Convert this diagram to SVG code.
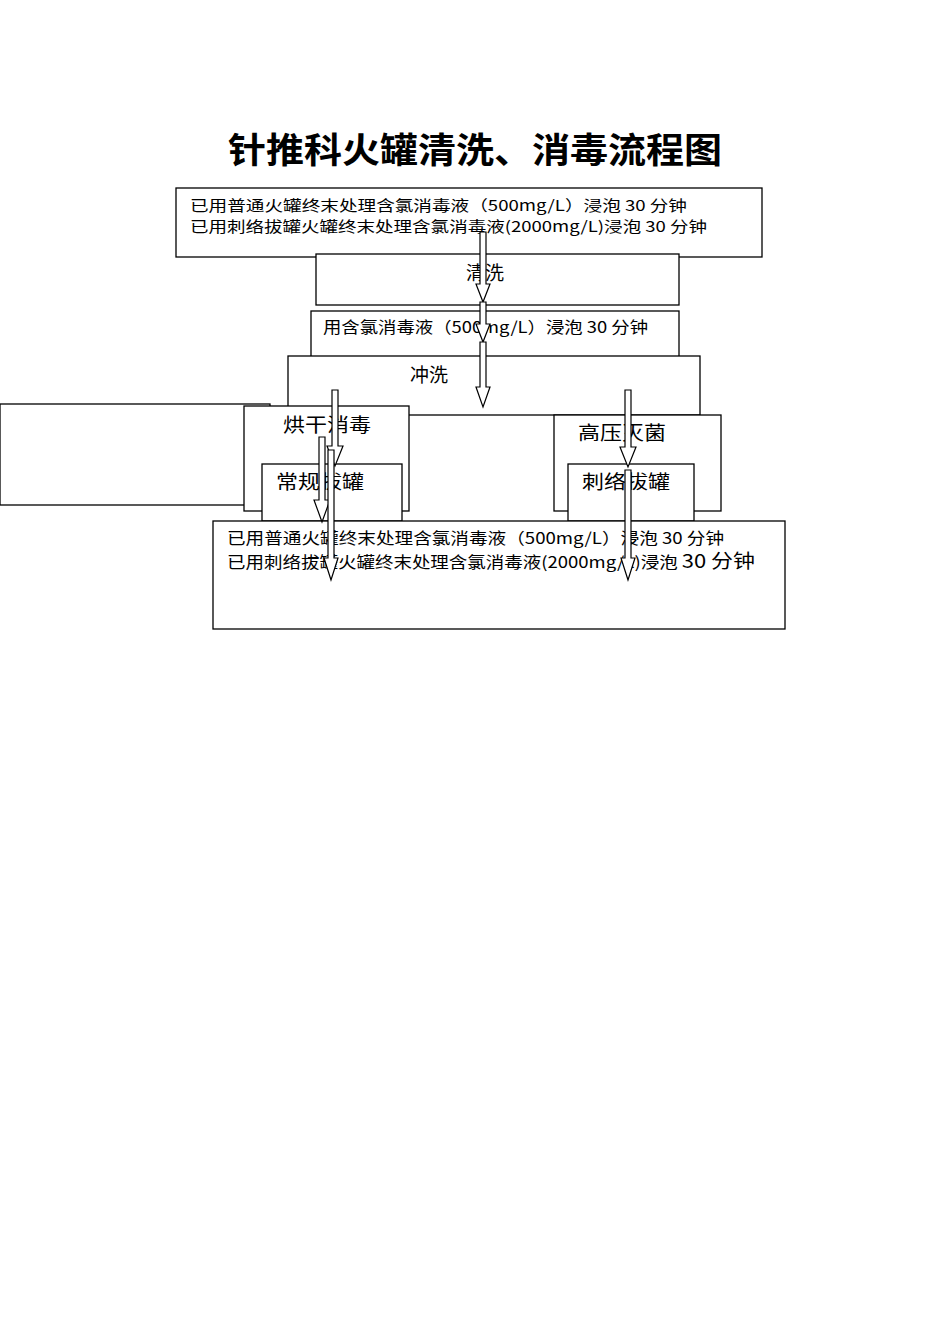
<svg xmlns="http://www.w3.org/2000/svg" width="950" height="1344" viewBox="0 0 950 1344">
<style>
.b{fill:#fff;stroke:#000;stroke-width:1.3}
.t{font-family:"Noto Sans CJK SC","Liberation Sans",sans-serif;fill:#000}
.a{fill:#fff;stroke:#000;stroke-width:1.2}
</style>
<rect width="950" height="1344" fill="#fff"/>
<text x="228" y="163" class="t" font-size="35" font-weight="bold" textLength="494" lengthAdjust="spacingAndGlyphs">针推科火罐清洗、消毒流程图</text>
<g id="n1"><rect class="b" x="176" y="188" width="586" height="69"/>
<text class="t" x="190" y="211" font-size="15" textLength="497" lengthAdjust="spacingAndGlyphs">已用普通火罐终末处理含氯消毒液（500mg/L）浸泡 30 分钟</text>
<text class="t" x="190" y="232" font-size="15" textLength="517" lengthAdjust="spacingAndGlyphs">已用刺络拔罐火罐终末处理含氯消毒液(2000mg/L)浸泡 30 分钟</text></g>
<g id="n2"><rect class="b" x="316" y="254" width="363" height="51"/><text class="t" x="485" y="280" font-size="19" text-anchor="middle">清洗</text></g>
<g id="n3"><rect class="b" x="311" y="311" width="368" height="53"/><text class="t" x="323" y="333" font-size="16" textLength="325" lengthAdjust="spacingAndGlyphs">用含氯消毒液（500mg/L）浸泡 30 分钟</text></g>
<g id="n4"><rect class="b" x="288" y="356" width="412" height="59"/><text class="t" x="429" y="382" font-size="19" text-anchor="middle">冲洗</text></g>
<g id="n5"><rect class="b" x="0" y="404" width="270" height="101"/></g>
<g id="n6"><rect class="b" x="244" y="406" width="165" height="105"/><text class="t" x="283" y="432" font-size="19" textLength="88" lengthAdjust="spacingAndGlyphs">烘干消毒</text></g>
<g id="n7"><rect class="b" x="554" y="415" width="167" height="96"/><text class="t" x="578" y="440" font-size="19" textLength="88" lengthAdjust="spacingAndGlyphs">高压灭菌</text></g>
<g id="n8"><rect class="b" x="262" y="464" width="140" height="57"/><text class="t" x="276" y="489" font-size="19" textLength="88" lengthAdjust="spacingAndGlyphs">常规拔罐</text></g>
<g id="n9"><rect class="b" x="568" y="464" width="126" height="57"/><text class="t" x="582" y="489" font-size="19" textLength="88" lengthAdjust="spacingAndGlyphs">刺络拔罐</text></g>
<g id="n10"><rect class="b" x="213" y="521" width="572" height="108"/>
<text class="t" x="227" y="544" font-size="16" textLength="497" lengthAdjust="spacingAndGlyphs">已用普通火罐终末处理含氯消毒液（500mg/L）浸泡 30 分钟</text>
<text class="t" x="227" y="568" font-size="16" textLength="528" lengthAdjust="spacingAndGlyphs">已用刺络拔罐火罐终末处理含氯消毒液(2000mg/L)浸泡 <tspan font-size="19">30 分钟</tspan></text></g>
<g id="connectors">
<polygon class="a" points="480,232 486,232 486,284 490,284 483,302 476,284 480,284"/>
<polygon class="a" points="480,302 486,302 486,324 490,324 483,342 476,324 480,324"/>
<polygon class="a" points="480,342 486,342 486,387 490,387 483,407 476,387 480,387"/>
<polygon class="a" points="332,390 338,390 338,446 343,446 335,466 327,446 332,446"/>
<polygon class="a" points="319,437 325,437 325,500 330,500 322,522 314,500 319,500"/>
<polygon class="a" points="328,450 334,450 334,558 338,558 331,580 324,558 328,558"/>
<polygon class="a" points="625,390 631,390 631,447 636,447 628,467 620,447 625,447"/>
<polygon class="a" points="625,470 631,470 631,558 635,558 628,580 621,558 625,558"/>
</g>
</svg>
